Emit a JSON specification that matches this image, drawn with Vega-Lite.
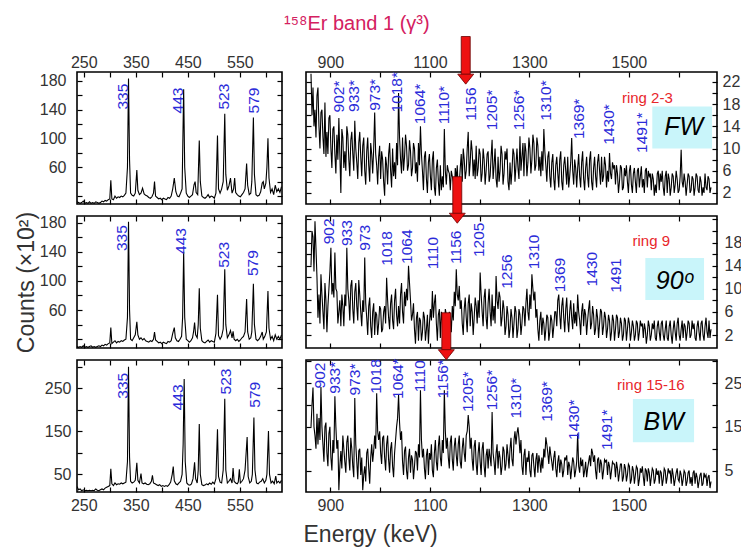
{
"$schema":"https://vega.github.io/schema/vega-lite/v6.json",
"background":"white",
"padding":{"left":14,"top":14,"right":5,"bottom":5},
"title":{"text":"¹⁵⁸Er band 1 (γ³)","font":"Liberation Sans","fontSize":20,"fontWeight":"normal","color":"#d42060","anchor":"start","frame":"group","dx":207,"offset":-19,"baseline":"bottom"},
"columns":2,
"spacing":{"row":12,"column":24},
"bounds":"flush",
"datasets":{
"tl":[{"e":237,"c":12},{"e":240,"c":11},{"e":243,"c":10},{"e":246,"c":11},{"e":249,"c":13},{"e":252,"c":10},{"e":255,"c":11},{"e":258,"c":10},{"e":261,"c":12},{"e":264,"c":10},{"e":267,"c":11},{"e":270,"c":10},{"e":273,"c":12},{"e":276,"c":11},{"e":279,"c":10},{"e":282,"c":11},{"e":285,"c":13},{"e":288,"c":12},{"e":291,"c":14},{"e":294,"c":13},{"e":297,"c":15},{"e":300,"c":16},{"e":302,"c":42},{"e":304,"c":16},{"e":307,"c":15},{"e":310,"c":20},{"e":313,"c":17},{"e":316,"c":19},{"e":319,"c":18},{"e":322,"c":20},{"e":325,"c":19},{"e":328,"c":21},{"e":331,"c":24},{"e":334,"c":60},{"e":336,"c":183},{"e":338,"c":70},{"e":340,"c":24},{"e":343,"c":21},{"e":346,"c":20},{"e":349,"c":24},{"e":352,"c":56},{"e":354,"c":28},{"e":357,"c":22},{"e":360,"c":24},{"e":363,"c":31},{"e":366,"c":23},{"e":369,"c":21},{"e":372,"c":20},{"e":375,"c":18},{"e":378,"c":17},{"e":381,"c":19},{"e":384,"c":24},{"e":386,"c":40},{"e":388,"c":20},{"e":391,"c":18},{"e":394,"c":16},{"e":397,"c":17},{"e":400,"c":15},{"e":403,"c":17},{"e":406,"c":16},{"e":409,"c":15},{"e":412,"c":18},{"e":415,"c":17},{"e":418,"c":20},{"e":421,"c":30},{"e":424,"c":45},{"e":427,"c":26},{"e":430,"c":20},{"e":433,"c":19},{"e":436,"c":24},{"e":439,"c":30},{"e":442,"c":168},{"e":444,"c":60},{"e":447,"c":24},{"e":450,"c":20},{"e":453,"c":18},{"e":456,"c":20},{"e":459,"c":22},{"e":462,"c":36},{"e":464,"c":40},{"e":466,"c":25},{"e":469,"c":22},{"e":472,"c":97},{"e":474,"c":40},{"e":477,"c":20},{"e":480,"c":18},{"e":483,"c":17},{"e":486,"c":19},{"e":489,"c":22},{"e":492,"c":18},{"e":495,"c":20},{"e":498,"c":19},{"e":501,"c":17},{"e":504,"c":24},{"e":507,"c":104},{"e":509,"c":30},{"e":512,"c":24},{"e":515,"c":30},{"e":518,"c":40},{"e":521,"c":134},{"e":523,"c":50},{"e":526,"c":28},{"e":529,"c":34},{"e":532,"c":45},{"e":535,"c":24},{"e":538,"c":30},{"e":540,"c":45},{"e":542,"c":25},{"e":545,"c":22},{"e":548,"c":20},{"e":551,"c":19},{"e":554,"c":22},{"e":557,"c":25},{"e":560,"c":30},{"e":563,"c":65},{"e":565,"c":35},{"e":568,"c":22},{"e":571,"c":24},{"e":573,"c":40},{"e":576,"c":129},{"e":578,"c":50},{"e":581,"c":22},{"e":584,"c":20},{"e":587,"c":21},{"e":590,"c":26},{"e":593,"c":38},{"e":595,"c":40},{"e":597,"c":30},{"e":600,"c":38},{"e":602,"c":60},{"e":604,"c":100},{"e":606,"c":45},{"e":609,"c":25},{"e":612,"c":30},{"e":615,"c":22},{"e":618,"c":35},{"e":621,"c":26},{"e":624,"c":30},{"e":627,"c":25},{"e":630,"c":33}],
"ml":[{"e":237,"c":10},{"e":240,"c":9},{"e":243,"c":10},{"e":246,"c":9},{"e":249,"c":11},{"e":252,"c":9},{"e":255,"c":10},{"e":258,"c":9},{"e":261,"c":10},{"e":264,"c":11},{"e":267,"c":9},{"e":270,"c":10},{"e":273,"c":9},{"e":276,"c":10},{"e":279,"c":11},{"e":282,"c":10},{"e":285,"c":12},{"e":288,"c":11},{"e":291,"c":13},{"e":294,"c":12},{"e":297,"c":14},{"e":300,"c":15},{"e":302,"c":36},{"e":304,"c":14},{"e":307,"c":16},{"e":310,"c":18},{"e":313,"c":15},{"e":316,"c":17},{"e":319,"c":16},{"e":322,"c":18},{"e":325,"c":17},{"e":328,"c":19},{"e":331,"c":20},{"e":334,"c":50},{"e":336,"c":181},{"e":338,"c":60},{"e":340,"c":20},{"e":343,"c":18},{"e":346,"c":22},{"e":349,"c":26},{"e":352,"c":44},{"e":354,"c":26},{"e":357,"c":20},{"e":360,"c":22},{"e":363,"c":19},{"e":366,"c":21},{"e":369,"c":18},{"e":372,"c":17},{"e":375,"c":16},{"e":378,"c":18},{"e":381,"c":17},{"e":384,"c":20},{"e":386,"c":30},{"e":388,"c":19},{"e":391,"c":17},{"e":394,"c":15},{"e":397,"c":16},{"e":400,"c":14},{"e":403,"c":16},{"e":406,"c":15},{"e":409,"c":14},{"e":412,"c":17},{"e":415,"c":16},{"e":418,"c":18},{"e":421,"c":28},{"e":424,"c":36},{"e":426,"c":22},{"e":429,"c":18},{"e":432,"c":17},{"e":435,"c":20},{"e":438,"c":24},{"e":440,"c":50},{"e":442,"c":140},{"e":444,"c":50},{"e":447,"c":20},{"e":450,"c":18},{"e":453,"c":16},{"e":456,"c":18},{"e":459,"c":22},{"e":461,"c":30},{"e":463,"c":43},{"e":465,"c":26},{"e":468,"c":22},{"e":470,"c":40},{"e":472,"c":90},{"e":474,"c":35},{"e":477,"c":18},{"e":480,"c":16},{"e":483,"c":15},{"e":486,"c":17},{"e":489,"c":19},{"e":492,"c":16},{"e":495,"c":18},{"e":498,"c":17},{"e":501,"c":16},{"e":504,"c":28},{"e":507,"c":81},{"e":509,"c":25},{"e":512,"c":20},{"e":515,"c":24},{"e":518,"c":34},{"e":521,"c":116},{"e":523,"c":40},{"e":526,"c":22},{"e":529,"c":26},{"e":532,"c":32},{"e":535,"c":22},{"e":537,"c":31},{"e":539,"c":20},{"e":542,"c":18},{"e":545,"c":20},{"e":548,"c":17},{"e":551,"c":19},{"e":554,"c":22},{"e":557,"c":24},{"e":560,"c":30},{"e":563,"c":75},{"e":565,"c":30},{"e":568,"c":20},{"e":571,"c":22},{"e":573,"c":30},{"e":576,"c":96},{"e":578,"c":40},{"e":581,"c":20},{"e":584,"c":18},{"e":587,"c":20},{"e":590,"c":24},{"e":593,"c":30},{"e":595,"c":20},{"e":598,"c":24},{"e":601,"c":30},{"e":604,"c":86},{"e":606,"c":35},{"e":609,"c":20},{"e":612,"c":24},{"e":615,"c":18},{"e":618,"c":26},{"e":621,"c":20},{"e":624,"c":24},{"e":627,"c":20},{"e":630,"c":26}],
"bl":[{"e":237,"c":22},{"e":240,"c":14},{"e":243,"c":16},{"e":246,"c":12},{"e":249,"c":14},{"e":252,"c":12},{"e":255,"c":13},{"e":258,"c":12},{"e":261,"c":13},{"e":264,"c":12},{"e":267,"c":13},{"e":270,"c":12},{"e":273,"c":16},{"e":276,"c":13},{"e":279,"c":12},{"e":282,"c":14},{"e":285,"c":16},{"e":288,"c":14},{"e":291,"c":18},{"e":294,"c":20},{"e":297,"c":22},{"e":300,"c":24},{"e":302,"c":63},{"e":304,"c":28},{"e":307,"c":24},{"e":310,"c":30},{"e":313,"c":26},{"e":316,"c":28},{"e":319,"c":27},{"e":322,"c":30},{"e":325,"c":28},{"e":328,"c":30},{"e":331,"c":32},{"e":334,"c":80},{"e":336,"c":300},{"e":338,"c":90},{"e":340,"c":34},{"e":343,"c":30},{"e":346,"c":32},{"e":349,"c":36},{"e":352,"c":77},{"e":354,"c":36},{"e":357,"c":30},{"e":360,"c":52},{"e":362,"c":30},{"e":365,"c":28},{"e":368,"c":30},{"e":371,"c":27},{"e":374,"c":26},{"e":377,"c":28},{"e":380,"c":34},{"e":382,"c":48},{"e":384,"c":30},{"e":387,"c":28},{"e":390,"c":26},{"e":393,"c":24},{"e":396,"c":26},{"e":399,"c":22},{"e":402,"c":24},{"e":405,"c":22},{"e":408,"c":24},{"e":411,"c":22},{"e":414,"c":26},{"e":417,"c":32},{"e":420,"c":50},{"e":422,"c":68},{"e":424,"c":35},{"e":427,"c":28},{"e":430,"c":26},{"e":433,"c":30},{"e":436,"c":34},{"e":439,"c":50},{"e":441,"c":120},{"e":443,"c":272},{"e":445,"c":80},{"e":448,"c":30},{"e":451,"c":26},{"e":454,"c":25},{"e":457,"c":28},{"e":460,"c":40},{"e":463,"c":78},{"e":465,"c":40},{"e":468,"c":30},{"e":470,"c":60},{"e":472,"c":167},{"e":474,"c":50},{"e":477,"c":26},{"e":480,"c":24},{"e":483,"c":25},{"e":486,"c":28},{"e":489,"c":26},{"e":492,"c":30},{"e":495,"c":27},{"e":498,"c":32},{"e":501,"c":28},{"e":504,"c":40},{"e":507,"c":155},{"e":509,"c":45},{"e":512,"c":32},{"e":515,"c":30},{"e":518,"c":60},{"e":521,"c":226},{"e":523,"c":60},{"e":526,"c":30},{"e":529,"c":34},{"e":532,"c":40},{"e":535,"c":30},{"e":537,"c":65},{"e":539,"c":34},{"e":542,"c":30},{"e":545,"c":28},{"e":547,"c":32},{"e":549,"c":62},{"e":551,"c":30},{"e":554,"c":34},{"e":557,"c":40},{"e":560,"c":60},{"e":564,"c":137},{"e":566,"c":45},{"e":569,"c":30},{"e":572,"c":34},{"e":574,"c":50},{"e":577,"c":182},{"e":579,"c":60},{"e":582,"c":30},{"e":585,"c":28},{"e":588,"c":32},{"e":591,"c":34},{"e":594,"c":40},{"e":597,"c":30},{"e":600,"c":36},{"e":602,"c":50},{"e":605,"c":151},{"e":607,"c":50},{"e":610,"c":30},{"e":613,"c":34},{"e":616,"c":28},{"e":619,"c":46},{"e":621,"c":30},{"e":624,"c":34},{"e":627,"c":30},{"e":630,"c":36}],
"tr":[{"e":861,"c":23.5},{"e":865,"c":21},{"e":869,"c":17},{"e":873,"c":19.5},{"e":877,"c":14},{"e":881,"c":16.5},{"e":885,"c":12},{"e":889,"c":18.3},{"e":893,"c":13},{"e":897,"c":15.5},{"e":901,"c":10},{"e":905,"c":13.5},{"e":909,"c":9},{"e":913,"c":12.5},{"e":917,"c":15.5},{"e":921,"c":2},{"e":925,"c":12},{"e":929,"c":9.5},{"e":933,"c":14},{"e":937,"c":8},{"e":941,"c":11.5},{"e":945,"c":9},{"e":949,"c":15},{"e":953,"c":7.5},{"e":957,"c":11},{"e":961,"c":8.5},{"e":965,"c":10.5},{"e":969,"c":6},{"e":973,"c":9.5},{"e":977,"c":7},{"e":981,"c":11},{"e":985,"c":5.5},{"e":989,"c":16.5},{"e":993,"c":7},{"e":997,"c":8.5},{"e":1001,"c":4.5},{"e":1005,"c":8},{"e":1009,"c":1.5},{"e":1013,"c":7},{"e":1017,"c":9},{"e":1021,"c":6},{"e":1025,"c":10},{"e":1029,"c":7.5},{"e":1033,"c":11},{"e":1037,"c":20},{"e":1041,"c":8},{"e":1045,"c":12},{"e":1049,"c":8.5},{"e":1053,"c":10.5},{"e":1057,"c":7},{"e":1061,"c":9.5},{"e":1065,"c":6.5},{"e":1069,"c":10},{"e":1073,"c":7.5},{"e":1077,"c":11},{"e":1081,"c":14},{"e":1085,"c":6},{"e":1089,"c":8.5},{"e":1093,"c":4.5},{"e":1097,"c":7.5},{"e":1101,"c":5},{"e":1105,"c":8},{"e":1109,"c":3},{"e":1113,"c":6.5},{"e":1117,"c":4},{"e":1121,"c":7},{"e":1125,"c":5},{"e":1129,"c":13.5},{"e":1133,"c":3.5},{"e":1137,"c":6},{"e":1141,"c":2.5},{"e":1145,"c":5},{"e":1149,"c":1.5},{"e":1153,"c":4.5},{"e":1157,"c":2},{"e":1161,"c":6.5},{"e":1165,"c":4},{"e":1169,"c":8},{"e":1173,"c":6},{"e":1177,"c":13},{"e":1181,"c":7.5},{"e":1185,"c":9.5},{"e":1189,"c":8},{"e":1193,"c":10.5},{"e":1197,"c":6.5},{"e":1201,"c":9},{"e":1205,"c":5.5},{"e":1209,"c":8},{"e":1213,"c":6},{"e":1217,"c":9.5},{"e":1221,"c":5},{"e":1225,"c":11.6},{"e":1229,"c":7},{"e":1233,"c":4.5},{"e":1237,"c":8.5},{"e":1241,"c":6},{"e":1245,"c":9},{"e":1249,"c":5.5},{"e":1253,"c":8},{"e":1257,"c":4},{"e":1261,"c":7.5},{"e":1265,"c":6},{"e":1269,"c":9},{"e":1273,"c":7},{"e":1277,"c":6.5},{"e":1281,"c":12.2},{"e":1285,"c":8.5},{"e":1289,"c":5},{"e":1293,"c":9.5},{"e":1297,"c":7.5},{"e":1301,"c":10},{"e":1305,"c":8},{"e":1309,"c":11},{"e":1313,"c":7},{"e":1317,"c":10.5},{"e":1321,"c":8.5},{"e":1325,"c":9.5},{"e":1329,"c":13.5},{"e":1333,"c":7},{"e":1337,"c":8.5},{"e":1341,"c":5},{"e":1345,"c":7.5},{"e":1349,"c":4.5},{"e":1353,"c":7},{"e":1357,"c":5.5},{"e":1361,"c":8},{"e":1365,"c":4},{"e":1369,"c":7},{"e":1373,"c":6},{"e":1377,"c":8.5},{"e":1381,"c":5},{"e":1385,"c":11.9},{"e":1389,"c":3.5},{"e":1393,"c":6.5},{"e":1397,"c":6.5},{"e":1401,"c":5},{"e":1405,"c":7.5},{"e":1409,"c":4.5},{"e":1413,"c":6.5},{"e":1417,"c":5},{"e":1421,"c":8},{"e":1425,"c":4},{"e":1429,"c":6.5},{"e":1433,"c":5},{"e":1437,"c":7.5},{"e":1441,"c":6},{"e":1445,"c":8.5},{"e":1449,"c":5},{"e":1453,"c":7},{"e":1457,"c":6},{"e":1461,"c":9.2},{"e":1465,"c":4.5},{"e":1469,"c":6.5},{"e":1473,"c":3.5},{"e":1477,"c":5.5},{"e":1481,"c":4},{"e":1485,"c":6.5},{"e":1489,"c":3},{"e":1493,"c":5},{"e":1497,"c":4},{"e":1501,"c":6},{"e":1505,"c":3.5},{"e":1509,"c":5.5},{"e":1513,"c":4},{"e":1517,"c":6},{"e":1521,"c":3},{"e":1525,"c":6.8},{"e":1529,"c":4.5},{"e":1533,"c":6},{"e":1537,"c":3},{"e":1541,"c":5},{"e":1545,"c":2.5},{"e":1549,"c":4.5},{"e":1553,"c":3.5},{"e":1557,"c":5.5},{"e":1561,"c":2.5},{"e":1565,"c":4},{"e":1569,"c":3},{"e":1573,"c":5},{"e":1577,"c":2},{"e":1581,"c":4.5},{"e":1585,"c":3},{"e":1589,"c":5},{"e":1593,"c":3.5},{"e":1597,"c":4.5},{"e":1601,"c":2.5},{"e":1605,"c":9.8},{"e":1609,"c":3},{"e":1613,"c":4},{"e":1617,"c":3.5},{"e":1621,"c":5},{"e":1625,"c":2.5},{"e":1629,"c":4.5},{"e":1633,"c":3},{"e":1637,"c":5},{"e":1641,"c":2},{"e":1645,"c":4},{"e":1649,"c":3},{"e":1653,"c":5.5},{"e":1657,"c":2.5},{"e":1661,"c":4.5},{"e":1665,"c":3},
{"e":863,"c":16},{"e":867,"c":14},{"e":871,"c":12},{"e":875,"c":21},{"e":879,"c":10},{"e":883,"c":17},{"e":887,"c":9},{"e":891,"c":8.5},{"e":895,"c":9},{"e":899,"c":16},{"e":903,"c":6.5},{"e":907,"c":14},{"e":911,"c":5.5},{"e":915,"c":8},{"e":919,"c":9},{"e":923,"c":13.5},{"e":927,"c":6.5},{"e":931,"c":6},{"e":935,"c":12.5},{"e":939,"c":5},{"e":943,"c":13},{"e":947,"c":6},{"e":951,"c":10},{"e":955,"c":4.5},{"e":959,"c":13},{"e":963,"c":5},{"e":967,"c":12},{"e":971,"c":3.5},{"e":975,"c":12},{"e":979,"c":4},{"e":983,"c":9},{"e":987,"c":10},{"e":991,"c":9},{"e":995,"c":3.5},{"e":999,"c":10.5},{"e":1003,"c":9.5},{"e":1007,"c":4},{"e":1011,"c":8.5},{"e":1015,"c":3.5},{"e":1019,"c":11},{"e":1023,"c":3},{"e":1027,"c":5},{"e":1031,"c":4.5},{"e":1035,"c":7},{"e":1039,"c":12},{"e":1043,"c":5.5},{"e":1047,"c":6},{"e":1051,"c":12.5},{"e":1055,"c":6},{"e":1059,"c":11.5},{"e":1063,"c":5},{"e":1067,"c":11},{"e":1071,"c":5.5},{"e":1075,"c":4},{"e":1079,"c":7},{"e":1083,"c":9},{"e":1087,"c":2.5},{"e":1091,"c":9.5},{"e":1095,"c":2},{"e":1099,"c":9},{"e":1103,"c":2.5},{"e":1107,"c":9.5},{"e":1111,"c":1.5},{"e":1115,"c":8},{"e":1119,"c":1.5},{"e":1123,"c":2.5},{"e":1127,"c":3},{"e":1131,"c":6},{"e":1135,"c":7},{"e":1139,"c":5.5},{"e":1143,"c":6},{"e":1147,"c":4},{"e":1151,"c":6.5},{"e":1155,"c":7},{"e":1159,"c":3.5},{"e":1163,"c":9},{"e":1167,"c":10},{"e":1171,"c":4.5},{"e":1175,"c":10},{"e":1179,"c":5},{"e":1183,"c":11.5},{"e":1187,"c":5},{"e":1191,"c":4.5},{"e":1195,"c":5},{"e":1199,"c":10},{"e":1203,"c":4},{"e":1207,"c":10},{"e":1211,"c":3.5},{"e":1215,"c":9},{"e":1219,"c":4},{"e":1223,"c":8.5},{"e":1227,"c":4.5},{"e":1231,"c":10},{"e":1235,"c":3},{"e":1239,"c":4},{"e":1243,"c":10.5},{"e":1247,"c":3.5},{"e":1251,"c":9.5},{"e":1255,"c":10},{"e":1259,"c":2.5},{"e":1263,"c":3.5},{"e":1267,"c":10},{"e":1271,"c":4},{"e":1275,"c":10},{"e":1279,"c":4.5},{"e":1283,"c":6},{"e":1287,"c":11},{"e":1291,"c":11},{"e":1295,"c":5},{"e":1299,"c":12},{"e":1303,"c":5.5},{"e":1307,"c":12.5},{"e":1311,"c":6},{"e":1315,"c":12},{"e":1319,"c":6},{"e":1323,"c":5},{"e":1327,"c":6},{"e":1331,"c":9.5},{"e":1335,"c":4},{"e":1339,"c":9.5},{"e":1343,"c":3},{"e":1347,"c":9},{"e":1351,"c":2.5},{"e":1355,"c":8.5},{"e":1359,"c":3},{"e":1363,"c":9.5},{"e":1367,"c":2.5},{"e":1371,"c":8.5},{"e":1375,"c":3.5},{"e":1379,"c":3},{"e":1383,"c":7.5},{"e":1387,"c":6},{"e":1391,"c":8},{"e":1395,"c":3},{"e":1399,"c":9},{"e":1403,"c":3},{"e":1407,"c":9.5},{"e":1411,"c":2.5},{"e":1415,"c":8.5},{"e":1419,"c":3},{"e":1423,"c":9.5},{"e":1427,"c":2.5},{"e":1431,"c":8.5},{"e":1435,"c":3},{"e":1439,"c":9},{"e":1443,"c":3.5},{"e":1447,"c":4},{"e":1451,"c":8.5},{"e":1455,"c":3},{"e":1459,"c":4},{"e":1463,"c":5.5},{"e":1467,"c":7.5},{"e":1471,"c":7},{"e":1475,"c":7},{"e":1479,"c":2},{"e":1483,"c":7},{"e":1487,"c":2.5},{"e":1491,"c":6.5},{"e":1495,"c":7},{"e":1499,"c":2},{"e":1503,"c":7},{"e":1507,"c":2},{"e":1511,"c":6.5},{"e":1515,"c":2},{"e":1519,"c":6.5},{"e":1523,"c":5},{"e":1527,"c":3},{"e":1531,"c":2},{"e":1535,"c":6.5},{"e":1539,"c":6},{"e":1543,"c":5.5},{"e":1547,"c":5.5},{"e":1551,"c":1.5},{"e":1555,"c":2},{"e":1559,"c":6},{"e":1563,"c":5.5},{"e":1567,"c":6},{"e":1571,"c":1.5},{"e":1575,"c":6},{"e":1579,"c":5.5},{"e":1583,"c":1.5},{"e":1587,"c":5.5},{"e":1591,"c":2},{"e":1595,"c":6},{"e":1599,"c":2},{"e":1603,"c":5},{"e":1607,"c":4},{"e":1611,"c":5.5},{"e":1615,"c":1.5},{"e":1619,"c":5.5},{"e":1623,"c":2},{"e":1627,"c":5},{"e":1631,"c":1.5},{"e":1635,"c":5.5},{"e":1639,"c":2.5},{"e":1643,"c":5},{"e":1647,"c":1.5},{"e":1651,"c":2},{"e":1655,"c":3},{"e":1659,"c":5},{"e":1663,"c":2}],
"mr":[{"e":861,"c":14},{"e":865,"c":19},{"e":869,"c":21.7},{"e":873,"c":12},{"e":877,"c":9},{"e":881,"c":12.5},{"e":885,"c":6},{"e":889,"c":11},{"e":893,"c":2.5},{"e":897,"c":10},{"e":901,"c":17.1},{"e":905,"c":11},{"e":909,"c":16.3},{"e":913,"c":9.5},{"e":917,"c":6},{"e":921,"c":3.5},{"e":925,"c":7},{"e":929,"c":9},{"e":933,"c":17.1},{"e":937,"c":8},{"e":941,"c":10.5},{"e":945,"c":6.5},{"e":949,"c":9.5},{"e":953,"c":7},{"e":957,"c":11.5},{"e":961,"c":6},{"e":965,"c":8},{"e":969,"c":15.4},{"e":973,"c":5},{"e":977,"c":7},{"e":981,"c":3.5},{"e":985,"c":6},{"e":989,"c":2},{"e":993,"c":5.5},{"e":997,"c":4},{"e":1001,"c":6.5},{"e":1005,"c":3},{"e":1009,"c":7},{"e":1013,"c":11.9},{"e":1017,"c":5},{"e":1021,"c":7.5},{"e":1025,"c":4.5},{"e":1029,"c":8},{"e":1033,"c":5.5},{"e":1037,"c":7},{"e":1041,"c":9},{"e":1045,"c":6},{"e":1049,"c":9.5},{"e":1053,"c":10},{"e":1057,"c":14},{"e":1061,"c":8},{"e":1065,"c":5.5},{"e":1069,"c":3},{"e":1073,"c":5},{"e":1077,"c":1},{"e":1081,"c":4.5},{"e":1085,"c":2.5},{"e":1089,"c":5},{"e":1093,"c":3},{"e":1097,"c":0.5},{"e":1101,"c":6.5},{"e":1105,"c":9.6},{"e":1109,"c":7.5},{"e":1113,"c":4},{"e":1117,"c":5.5},{"e":1121,"c":1.5},{"e":1125,"c":4.5},{"e":1129,"c":3},{"e":1133,"c":5.5},{"e":1137,"c":2.5},{"e":1141,"c":5},{"e":1145,"c":7},{"e":1149,"c":9.5},{"e":1153,"c":13.4},{"e":1157,"c":8},{"e":1161,"c":6.5},{"e":1165,"c":4},{"e":1169,"c":6.5},{"e":1173,"c":5},{"e":1177,"c":7.5},{"e":1181,"c":3.5},{"e":1185,"c":6},{"e":1189,"c":5},{"e":1193,"c":7},{"e":1197,"c":8},{"e":1201,"c":12.8},{"e":1205,"c":6},{"e":1209,"c":8.5},{"e":1213,"c":5},{"e":1217,"c":7.5},{"e":1221,"c":6},{"e":1225,"c":9},{"e":1229,"c":7},{"e":1233,"c":12.2},{"e":1237,"c":6.5},{"e":1241,"c":8.5},{"e":1245,"c":5},{"e":1249,"c":6.5},{"e":1253,"c":3.5},{"e":1257,"c":5.5},{"e":1261,"c":3},{"e":1265,"c":5},{"e":1269,"c":4},{"e":1273,"c":6},{"e":1277,"c":3},{"e":1281,"c":5.5},{"e":1285,"c":4},{"e":1289,"c":6.5},{"e":1293,"c":7.5},{"e":1297,"c":6},{"e":1301,"c":9},{"e":1305,"c":12.5},{"e":1309,"c":8},{"e":1313,"c":5},{"e":1317,"c":3},{"e":1321,"c":4.5},{"e":1325,"c":2},{"e":1329,"c":4},{"e":1333,"c":3},{"e":1337,"c":5},{"e":1341,"c":2.5},{"e":1345,"c":4.5},{"e":1349,"c":3.5},{"e":1353,"c":6},{"e":1357,"c":8},{"e":1361,"c":5.5},{"e":1365,"c":7},{"e":1369,"c":5},{"e":1373,"c":6.5},{"e":1377,"c":4.5},{"e":1381,"c":6},{"e":1385,"c":5},{"e":1389,"c":7.5},{"e":1393,"c":6},{"e":1397,"c":9},{"e":1401,"c":4.5},{"e":1405,"c":6},{"e":1409,"c":3.5},{"e":1413,"c":5.5},{"e":1417,"c":4.5},{"e":1421,"c":8},{"e":1425,"c":4},{"e":1429,"c":5.5},{"e":1433,"c":3},{"e":1437,"c":5},{"e":1441,"c":4},{"e":1445,"c":6},{"e":1449,"c":3.5},{"e":1453,"c":5},{"e":1457,"c":3},{"e":1461,"c":4.5},{"e":1465,"c":2.5},{"e":1469,"c":4.5},{"e":1473,"c":3},{"e":1477,"c":5},{"e":1481,"c":2.5},{"e":1485,"c":4},{"e":1489,"c":2},{"e":1493,"c":4.5},{"e":1497,"c":3},{"e":1501,"c":4},{"e":1505,"c":2.5},{"e":1509,"c":3.5},{"e":1513,"c":2},{"e":1517,"c":4},{"e":1521,"c":2.5},{"e":1525,"c":3.5},{"e":1529,"c":1.5},{"e":1533,"c":3},{"e":1537,"c":2},{"e":1541,"c":3.5},{"e":1545,"c":2},{"e":1549,"c":3},{"e":1553,"c":1.5},{"e":1557,"c":3.5},{"e":1561,"c":2.5},{"e":1565,"c":4},{"e":1569,"c":2},{"e":1573,"c":3},{"e":1577,"c":1.5},{"e":1581,"c":3.5},{"e":1585,"c":2},{"e":1589,"c":3},{"e":1593,"c":2.5},{"e":1597,"c":4},{"e":1601,"c":2},{"e":1605,"c":3},{"e":1609,"c":1.5},{"e":1613,"c":3.5},{"e":1617,"c":2.5},{"e":1621,"c":4},{"e":1625,"c":2},{"e":1629,"c":3},{"e":1633,"c":1.5},{"e":1637,"c":3.5},{"e":1641,"c":2.5},{"e":1645,"c":4},{"e":1649,"c":2},{"e":1653,"c":3.5},{"e":1657,"c":2.5},{"e":1661,"c":4.5},{"e":1665,"c":3},
{"e":863,"c":20},{"e":867,"c":13},{"e":871,"c":17},{"e":875,"c":5},{"e":879,"c":4},{"e":883,"c":9},{"e":887,"c":3},{"e":891,"c":8},{"e":895,"c":7},{"e":899,"c":13},{"e":903,"c":9},{"e":907,"c":8.5},{"e":911,"c":10},{"e":915,"c":4},{"e":919,"c":8},{"e":923,"c":9},{"e":927,"c":3.5},{"e":931,"c":7},{"e":935,"c":10},{"e":939,"c":4.5},{"e":943,"c":11.5},{"e":947,"c":4},{"e":951,"c":11},{"e":955,"c":4.5},{"e":959,"c":9},{"e":963,"c":3.5},{"e":967,"c":6},{"e":971,"c":7.5},{"e":975,"c":2},{"e":979,"c":8.5},{"e":983,"c":1.5},{"e":987,"c":7.5},{"e":991,"c":6},{"e":995,"c":2},{"e":999,"c":7},{"e":1003,"c":2.5},{"e":1007,"c":6},{"e":1011,"c":4},{"e":1015,"c":8},{"e":1019,"c":3},{"e":1023,"c":9},{"e":1027,"c":3},{"e":1031,"c":10},{"e":1035,"c":3.5},{"e":1039,"c":4},{"e":1043,"c":11},{"e":1047,"c":4},{"e":1051,"c":7},{"e":1055,"c":8},{"e":1059,"c":11},{"e":1063,"c":4.5},{"e":1067,"c":7.5},{"e":1071,"c":0.5},{"e":1075,"c":6},{"e":1079,"c":5},{"e":1083,"c":1},{"e":1087,"c":6},{"e":1091,"c":1},{"e":1095,"c":5.5},{"e":1099,"c":4},{"e":1103,"c":4.5},{"e":1107,"c":5},{"e":1111,"c":9},{"e":1115,"c":1},{"e":1119,"c":6.5},{"e":1123,"c":6},{"e":1127,"c":0.5},{"e":1131,"c":6.5},{"e":1135,"c":1.5},{"e":1139,"c":6},{"e":1143,"c":2.5},{"e":1147,"c":4.5},{"e":1151,"c":7},{"e":1155,"c":9},{"e":1159,"c":10.5},{"e":1163,"c":8},{"e":1167,"c":2},{"e":1171,"c":8.5},{"e":1175,"c":2.5},{"e":1179,"c":9},{"e":1183,"c":7.5},{"e":1187,"c":2},{"e":1191,"c":8.5},{"e":1195,"c":4},{"e":1199,"c":5},{"e":1203,"c":9},{"e":1207,"c":3.5},{"e":1211,"c":10},{"e":1215,"c":3},{"e":1219,"c":10},{"e":1223,"c":3.5},{"e":1227,"c":4.5},{"e":1231,"c":4},{"e":1235,"c":8},{"e":1239,"c":9.5},{"e":1243,"c":3.5},{"e":1247,"c":8},{"e":1251,"c":2},{"e":1255,"c":7},{"e":1259,"c":1.5},{"e":1263,"c":6.5},{"e":1267,"c":1.5},{"e":1271,"c":7},{"e":1275,"c":1.5},{"e":1279,"c":6.5},{"e":1283,"c":2},{"e":1287,"c":7},{"e":1291,"c":3.5},{"e":1295,"c":10},{"e":1299,"c":4.5},{"e":1303,"c":6.5},{"e":1307,"c":10},{"e":1311,"c":9.5},{"e":1315,"c":6.5},{"e":1319,"c":1},{"e":1323,"c":6},{"e":1327,"c":5},{"e":1331,"c":1},{"e":1335,"c":5.5},{"e":1339,"c":1},{"e":1343,"c":5.5},{"e":1347,"c":1.5},{"e":1351,"c":6},{"e":1355,"c":3.5},{"e":1359,"c":9},{"e":1363,"c":3},{"e":1367,"c":8.5},{"e":1371,"c":2.5},{"e":1375,"c":8.5},{"e":1379,"c":2.5},{"e":1383,"c":8},{"e":1387,"c":3},{"e":1391,"c":4},{"e":1395,"c":3.5},{"e":1399,"c":6},{"e":1403,"c":2},{"e":1407,"c":7.5},{"e":1411,"c":6.5},{"e":1415,"c":2},{"e":1419,"c":6.5},{"e":1423,"c":3},{"e":1427,"c":7},{"e":1431,"c":2},{"e":1435,"c":6.5},{"e":1439,"c":1.5},{"e":1443,"c":6.5},{"e":1447,"c":2},{"e":1451,"c":6},{"e":1455,"c":1.5},{"e":1459,"c":5.5},{"e":1463,"c":1},{"e":1467,"c":5.5},{"e":1471,"c":1},{"e":1475,"c":5.5},{"e":1479,"c":1.5},{"e":1483,"c":5},{"e":1487,"c":1},{"e":1491,"c":5},{"e":1495,"c":1},{"e":1499,"c":5},{"e":1503,"c":1},{"e":1507,"c":4.5},{"e":1511,"c":1},{"e":1515,"c":4.5},{"e":1519,"c":1},{"e":1523,"c":4.5},{"e":1527,"c":4},{"e":1531,"c":4},{"e":1535,"c":0.5},{"e":1539,"c":4.5},{"e":1543,"c":1},{"e":1547,"c":4},{"e":1551,"c":4.5},{"e":1555,"c":1},{"e":1559,"c":4.5},{"e":1563,"c":1},{"e":1567,"c":4.5},{"e":1571,"c":1},{"e":1575,"c":4.5},{"e":1579,"c":1},{"e":1583,"c":4.5},{"e":1587,"c":0.5},{"e":1591,"c":4.5},{"e":1595,"c":1},{"e":1599,"c":5},{"e":1603,"c":1},{"e":1607,"c":4.5},{"e":1611,"c":4},{"e":1615,"c":1},{"e":1619,"c":4.5},{"e":1623,"c":1.5},{"e":1627,"c":4.5},{"e":1631,"c":4},{"e":1635,"c":1},{"e":1639,"c":4.5},{"e":1643,"c":1},{"e":1647,"c":4.5},{"e":1651,"c":1},{"e":1655,"c":5},{"e":1659,"c":1.5},{"e":1663,"c":1.5}],
"br":[{"e":861,"c":15},{"e":865,"c":24},{"e":869,"c":13},{"e":873,"c":18},{"e":877,"c":17},{"e":881,"c":24.1},{"e":885,"c":11},{"e":889,"c":15},{"e":893,"c":9},{"e":897,"c":13.5},{"e":901,"c":8},{"e":905,"c":12},{"e":909,"c":22},{"e":913,"c":10},{"e":917,"c":0.5},{"e":921,"c":9.5},{"e":925,"c":13},{"e":929,"c":7},{"e":933,"c":11.5},{"e":937,"c":8},{"e":941,"c":12.5},{"e":945,"c":6},{"e":949,"c":21.6},{"e":953,"c":7},{"e":957,"c":9.5},{"e":961,"c":4},{"e":965,"c":0.5},{"e":969,"c":6},{"e":973,"c":9},{"e":977,"c":5.5},{"e":981,"c":8},{"e":985,"c":7},{"e":989,"c":13},{"e":993,"c":22.7},{"e":997,"c":12},{"e":1001,"c":9},{"e":1005,"c":12.5},{"e":1009,"c":8},{"e":1013,"c":11},{"e":1017,"c":7.5},{"e":1021,"c":10},{"e":1025,"c":6},{"e":1029,"c":9},{"e":1033,"c":15},{"e":1037,"c":22.3},{"e":1041,"c":12},{"e":1045,"c":7},{"e":1049,"c":9.5},{"e":1053,"c":5},{"e":1057,"c":8},{"e":1061,"c":4.5},{"e":1065,"c":7.5},{"e":1069,"c":6},{"e":1073,"c":9},{"e":1077,"c":11},{"e":1081,"c":23.4},{"e":1085,"c":8},{"e":1089,"c":5.5},{"e":1093,"c":8.5},{"e":1097,"c":4},{"e":1101,"c":7.5},{"e":1105,"c":5},{"e":1109,"c":9},{"e":1113,"c":7},{"e":1117,"c":10.5},{"e":1121,"c":8},{"e":1125,"c":12},{"e":1129,"c":23.4},{"e":1133,"c":10},{"e":1137,"c":8},{"e":1141,"c":11.5},{"e":1145,"c":7.5},{"e":1149,"c":10.5},{"e":1153,"c":8.5},{"e":1157,"c":11},{"e":1161,"c":7},{"e":1165,"c":10},{"e":1169,"c":9},{"e":1173,"c":13},{"e":1177,"c":17.7},{"e":1181,"c":10},{"e":1185,"c":7.5},{"e":1189,"c":10.5},{"e":1193,"c":6.5},{"e":1197,"c":9},{"e":1201,"c":7},{"e":1205,"c":10},{"e":1209,"c":6},{"e":1213,"c":8.5},{"e":1217,"c":5.5},{"e":1221,"c":8},{"e":1225,"c":18.4},{"e":1229,"c":7},{"e":1233,"c":9},{"e":1237,"c":5.5},{"e":1241,"c":8},{"e":1245,"c":6},{"e":1249,"c":9.5},{"e":1253,"c":6.5},{"e":1257,"c":8.5},{"e":1261,"c":10},{"e":1265,"c":7.5},{"e":1269,"c":12},{"e":1273,"c":11},{"e":1277,"c":14.9},{"e":1281,"c":9},{"e":1285,"c":6},{"e":1289,"c":8.5},{"e":1293,"c":4},{"e":1297,"c":7},{"e":1301,"c":5},{"e":1305,"c":8.5},{"e":1309,"c":6},{"e":1313,"c":7.5},{"e":1317,"c":4.5},{"e":1321,"c":7},{"e":1325,"c":8},{"e":1329,"c":10},{"e":1333,"c":12.6},{"e":1337,"c":9},{"e":1341,"c":10.5},{"e":1345,"c":7},{"e":1349,"c":8},{"e":1353,"c":5.5},{"e":1357,"c":7},{"e":1361,"c":4.5},{"e":1365,"c":6.5},{"e":1369,"c":5},{"e":1373,"c":7.5},{"e":1377,"c":4},{"e":1381,"c":6},{"e":1385,"c":5.5},{"e":1389,"c":7},{"e":1393,"c":5},{"e":1397,"c":13.5},{"e":1401,"c":4.5},{"e":1405,"c":6},{"e":1409,"c":3.5},{"e":1413,"c":7},{"e":1417,"c":5.5},{"e":1421,"c":8.5},{"e":1425,"c":10},{"e":1429,"c":7},{"e":1433,"c":5},{"e":1437,"c":7.5},{"e":1441,"c":4.5},{"e":1445,"c":6.5},{"e":1449,"c":5},{"e":1453,"c":7},{"e":1457,"c":4},{"e":1461,"c":6},{"e":1465,"c":5},{"e":1469,"c":6.5},{"e":1473,"c":3.5},{"e":1477,"c":5.5},{"e":1481,"c":4.5},{"e":1485,"c":6.5},{"e":1489,"c":3.5},{"e":1493,"c":5.5},{"e":1497,"c":4},{"e":1501,"c":6},{"e":1505,"c":3},{"e":1509,"c":5},{"e":1513,"c":4},{"e":1517,"c":5.5},{"e":1521,"c":3},{"e":1525,"c":4.5},{"e":1529,"c":3.5},{"e":1533,"c":5.5},{"e":1537,"c":2.5},{"e":1541,"c":4.5},{"e":1545,"c":3.5},{"e":1549,"c":5},{"e":1553,"c":3},{"e":1557,"c":4},{"e":1561,"c":2},{"e":1565,"c":4.5},{"e":1569,"c":3},{"e":1573,"c":5},{"e":1577,"c":3.5},{"e":1581,"c":4.5},{"e":1585,"c":2},{"e":1589,"c":4},{"e":1593,"c":3},{"e":1597,"c":5.5},{"e":1601,"c":2.5},{"e":1605,"c":4},{"e":1609,"c":3},{"e":1613,"c":4.5},{"e":1617,"c":2.5},{"e":1621,"c":5},{"e":1625,"c":3.5},{"e":1629,"c":4.5},{"e":1633,"c":2},{"e":1637,"c":3.5},{"e":1641,"c":2.5},{"e":1645,"c":4.5},{"e":1649,"c":2},{"e":1653,"c":3.5},{"e":1657,"c":1.5},{"e":1661,"c":4},{"e":1665,"c":2.5},
{"e":863,"c":20},{"e":867,"c":15},{"e":871,"c":10},{"e":875,"c":11},{"e":879,"c":12},{"e":883,"c":15},{"e":887,"c":7},{"e":891,"c":16},{"e":895,"c":6},{"e":899,"c":15},{"e":903,"c":5},{"e":907,"c":9},{"e":911,"c":15},{"e":915,"c":12},{"e":919,"c":6},{"e":923,"c":5.5},{"e":927,"c":10},{"e":931,"c":4.5},{"e":935,"c":13},{"e":939,"c":5},{"e":943,"c":10},{"e":947,"c":3.5},{"e":951,"c":11},{"e":955,"c":3},{"e":959,"c":10},{"e":963,"c":8},{"e":967,"c":4},{"e":971,"c":2.5},{"e":975,"c":10},{"e":979,"c":2},{"e":983,"c":11},{"e":987,"c":9.5},{"e":991,"c":10},{"e":995,"c":14},{"e":999,"c":14},{"e":1003,"c":6.5},{"e":1007,"c":13},{"e":1011,"c":5},{"e":1015,"c":13},{"e":1019,"c":4.5},{"e":1023,"c":11.5},{"e":1027,"c":3.5},{"e":1031,"c":12},{"e":1035,"c":17},{"e":1039,"c":16},{"e":1043,"c":14},{"e":1047,"c":4},{"e":1051,"c":10.5},{"e":1055,"c":3},{"e":1059,"c":10},{"e":1063,"c":8.5},{"e":1067,"c":3},{"e":1071,"c":9.5},{"e":1075,"c":5},{"e":1079,"c":8},{"e":1083,"c":12},{"e":1087,"c":10},{"e":1091,"c":3},{"e":1095,"c":10},{"e":1099,"c":9},{"e":1103,"c":11},{"e":1107,"c":3.5},{"e":1111,"c":12},{"e":1115,"c":5},{"e":1119,"c":13},{"e":1123,"c":6},{"e":1127,"c":9},{"e":1131,"c":14},{"e":1135,"c":12.5},{"e":1139,"c":5.5},{"e":1143,"c":13},{"e":1147,"c":5},{"e":1151,"c":12.5},{"e":1155,"c":6},{"e":1159,"c":13},{"e":1163,"c":5.5},{"e":1167,"c":12.5},{"e":1171,"c":7},{"e":1175,"c":14},{"e":1179,"c":15},{"e":1183,"c":12.5},{"e":1187,"c":5},{"e":1191,"c":12},{"e":1195,"c":4},{"e":1199,"c":11.5},{"e":1203,"c":4},{"e":1207,"c":11.5},{"e":1211,"c":3.5},{"e":1215,"c":10},{"e":1219,"c":10},{"e":1223,"c":6},{"e":1227,"c":9},{"e":1231,"c":4},{"e":1235,"c":11},{"e":1239,"c":9.5},{"e":1243,"c":4},{"e":1247,"c":10.5},{"e":1251,"c":5},{"e":1255,"c":11},{"e":1259,"c":5.5},{"e":1263,"c":12.5},{"e":1267,"c":6},{"e":1271,"c":14},{"e":1275,"c":13.5},{"e":1279,"c":12.5},{"e":1283,"c":12},{"e":1287,"c":4},{"e":1291,"c":10},{"e":1295,"c":8},{"e":1299,"c":9.5},{"e":1303,"c":3.5},{"e":1307,"c":9},{"e":1311,"c":3.5},{"e":1315,"c":9},{"e":1319,"c":8.5},{"e":1323,"c":4.5},{"e":1327,"c":5.5},{"e":1331,"c":8},{"e":1335,"c":11},{"e":1339,"c":6.5},{"e":1343,"c":8.5},{"e":1347,"c":5},{"e":1351,"c":9.5},{"e":1355,"c":3.5},{"e":1359,"c":8.5},{"e":1363,"c":7.5},{"e":1367,"c":3.5},{"e":1371,"c":8},{"e":1375,"c":8.5},{"e":1379,"c":7},{"e":1383,"c":3},{"e":1387,"c":8},{"e":1391,"c":3.5},{"e":1395,"c":7},{"e":1399,"c":6},{"e":1403,"c":8},{"e":1407,"c":7.5},{"e":1411,"c":5},{"e":1415,"c":3.5},{"e":1419,"c":7},{"e":1423,"c":6},{"e":1427,"c":9},{"e":1431,"c":8.5},{"e":1435,"c":3},{"e":1439,"c":8},{"e":1443,"c":7.5},{"e":1447,"c":3},{"e":1451,"c":7.5},{"e":1455,"c":7.5},{"e":1459,"c":7},{"e":1463,"c":3},{"e":1467,"c":7},{"e":1471,"c":6.5},{"e":1475,"c":7},{"e":1479,"c":2.5},{"e":1483,"c":6.5},{"e":1487,"c":2.5},{"e":1491,"c":6.5},{"e":1495,"c":2.5},{"e":1499,"c":6.5},{"e":1503,"c":2},{"e":1507,"c":6},{"e":1511,"c":2},{"e":1515,"c":6},{"e":1519,"c":1.5},{"e":1523,"c":5.5},{"e":1527,"c":6},{"e":1531,"c":1.5},{"e":1535,"c":5},{"e":1539,"c":5.5},{"e":1543,"c":1.5},{"e":1547,"c":5.5},{"e":1551,"c":2},{"e":1555,"c":5.5},{"e":1559,"c":5},{"e":1563,"c":5},{"e":1567,"c":1.5},{"e":1571,"c":5.5},{"e":1575,"c":2},{"e":1579,"c":5.5},{"e":1583,"c":5},{"e":1587,"c":5.5},{"e":1591,"c":1.5},{"e":1595,"c":4.5},{"e":1599,"c":3},{"e":1603,"c":5},{"e":1607,"c":1.5},{"e":1611,"c":5},{"e":1615,"c":1.5},{"e":1619,"c":4.5},{"e":1623,"c":2},{"e":1627,"c":1.5},{"e":1631,"c":5},{"e":1635,"c":4.5},{"e":1639,"c":1},{"e":1643,"c":4},{"e":1647,"c":1.5},{"e":1651,"c":4.5},{"e":1655,"c":4},{"e":1659,"c":3.5},{"e":1663,"c":1}],
"tl_lab":[{"e":325,"v":140,"t":"335"},{"e":432,"v":134.6,"t":"443"},{"e":520,"v":140,"t":"523"},{"e":577,"v":134.6,"t":"579"}],
"ml_lab":[{"e":323,"v":141,"t":"335"},{"e":436,"v":137,"t":"443"},{"e":519,"v":118,"t":"523"},{"e":575,"v":106.6,"t":"579"}],
"bl_lab":[{"e":325,"v":226,"t":"335"},{"e":431,"v":199,"t":"443"},{"e":523,"v":236,"t":"523"},{"e":579,"v":205,"t":"579"}],
"tr_lab":[{"e":918,"v":16.5,"t":"902*"},{"e":948,"v":16.6,"t":"933*"},{"e":990,"v":16.8,"t":"973*"},{"e":1033,"v":16.5,"t":"1018*"},{"e":1080,"v":14.4,"t":"1064*"},{"e":1129,"v":14.4,"t":"1110*"},{"e":1182,"v":15,"t":"1156"},{"e":1225,"v":13.3,"t":"1205*"},{"e":1279,"v":13.3,"t":"1256*"},{"e":1333,"v":15,"t":"1310*"},{"e":1400,"v":11.7,"t":"1369*"},{"e":1460,"v":10.7,"t":"1430*"},{"e":1526,"v":9.2,"t":"1491*"}],
"mr_lab":[{"e":898,"v":17.7,"t":"902"},{"e":933,"v":17.4,"t":"933"},{"e":970,"v":16.6,"t":"973"},{"e":1013,"v":14,"t":"1018"},{"e":1054,"v":14.3,"t":"1064"},{"e":1107,"v":13.4,"t":"1110"},{"e":1152,"v":14.3,"t":"1156"},{"e":1199,"v":15.5,"t":"1205"},{"e":1255,"v":10,"t":"1256"},{"e":1309,"v":13.4,"t":"1310"},{"e":1362,"v":9.4,"t":"1369"},{"e":1425,"v":10.4,"t":"1430"},{"e":1475,"v":9.3,"t":"1491"}],
"br_lab":[{"e":879,"v":23.8,"t":"902"},{"e":909,"v":22.6,"t":"933*"},{"e":949,"v":22.2,"t":"973*"},{"e":992,"v":22.6,"t":"1018"},{"e":1036,"v":21.4,"t":"1064*"},{"e":1081,"v":22.9,"t":"1110"},{"e":1126,"v":21.5,"t":"1156*"},{"e":1176,"v":18.4,"t":"1205*"},{"e":1224,"v":18.8,"t":"1256*"},{"e":1273,"v":16.9,"t":"1310*"},{"e":1335,"v":16.2,"t":"1369*"},{"e":1390,"v":12,"t":"1430*"},{"e":1456,"v":9.7,"t":"1491*"}],
"tr_note":[{"x1":1547,"x2":1667,"y1":10,"y2":17.6,"tx":1610,"ty":13.8,"t":"FW","rx":1537,"ry":19.2,"r":"ring 2-3","ax":1172,"atop":30.2,"abot":23.3,"ahead":22.55}],
"mr_note":[{"x1":1533,"x2":1651,"y1":8.07,"y2":15.35,"tx":1592,"ty":11.4,"t":"90ᵒ","rx":1545,"ry":18.2,"r":"ring 9","ax":1155,"atop":29.4,"abot":23.0,"ahead":22.25}],
"br_note":[{"x1":1508,"x2":1631,"y1":11.5,"y2":21.4,"tx":1570,"ty":16.2,"t":"BW","rx":1544,"ry":24.6,"r":"ring 15-16","ax":1133,"atop":41.1,"abot":32.6,"ahead":31.56}]
},
"concat":[
{"width":205,"height":132,"resolve":{"axis":{"x":"independent","y":"independent"}},"layer":[
 {"data":{"name":"tl"},"mark":{"type":"line","color":"black","strokeWidth":1.1,"clip":true},
  "encoding":{"x":{"field":"e","type":"quantitative","scale":{"domain":[237,631],"nice":false,"zero":false},"axis":{"orient":"bottom","values":[250,300,350,400,450,500,550,600],"labels":false,"title":null}},
   "y":{"field":"c","type":"quantitative","scale":{"domain":[9,192],"nice":false,"zero":false},"axis":{"orient":"left","values":[20,40,60,80,100,120,140,160,180],"labelExpr":"datum.value >= 60 && datum.value % 40 == 20 ? datum.label : ''","labelPadding":16,"title":null}}}},
 {"data":{"name":"tl_lab"},"mark":{"type":"text","angle":270,"align":"left","baseline":"middle","fontSize":15.5,"color":"#2b2bd9"},
  "encoding":{"x":{"field":"e","type":"quantitative","scale":{"domain":[237,631],"nice":false,"zero":false},"axis":{"orient":"top","values":[250,300,350,400,450,500,550,600],"labelExpr":"datum.value % 100 == 50 ? datum.label : ''","labelPadding":7,"title":null}},
   "y":{"field":"v","type":"quantitative","scale":{"domain":[9,192],"nice":false,"zero":false},"axis":{"orient":"right","values":[20,40,60,80,100,120,140,160,180],"labels":false,"title":null}},
   "text":{"field":"t"}}}
]},
{"width":411,"height":132,"resolve":{"axis":{"x":"independent","y":"independent"}},"layer":[
 {"data":{"name":"tr"},"mark":{"type":"line","color":"black","strokeWidth":1.1,"clip":true},
  "encoding":{"x":{"field":"e","type":"quantitative","scale":{"domain":[861,1667],"nice":false,"zero":false},"axis":{"orient":"bottom","values":[900,1000,1100,1200,1300,1400,1500,1600],"labels":false,"title":null}},
   "y":{"field":"c","type":"quantitative","scale":{"domain":[0,23.8],"nice":false,"zero":false},"axis":{"orient":"right","values":[2,4,6,8,10,12,14,16,18,20,22],"labelExpr":"datum.value % 4 == 2 ? datum.label : ''","labelPadding":10,"title":null}}}},
 {"data":{"name":"tr_lab"},"mark":{"type":"text","angle":270,"align":"left","baseline":"middle","fontSize":15.5,"color":"#2b2bd9"},
  "encoding":{"x":{"field":"e","type":"quantitative","scale":{"domain":[861,1667],"nice":false,"zero":false},"axis":{"orient":"top","values":[900,1000,1100,1200,1300,1400,1500,1600],"format":"d","labelExpr":"datum.value % 200 == 100 ? datum.label : ''","labelPadding":7,"title":null}},
   "y":{"field":"v","type":"quantitative","scale":{"domain":[0,23.8],"nice":false,"zero":false},"axis":{"orient":"left","values":[2,4,6,8,10,12,14,16,18,20,22],"labels":false,"title":null}},
   "text":{"field":"t"}}},
 {"data":{"name":"tr_note"},"mark":{"type":"rect","color":"#c9f5fa"},
  "encoding":{"x":{"field":"x1","type":"quantitative","axis":null},"x2":{"field":"x2"},"y":{"field":"y1","type":"quantitative","axis":null},"y2":{"field":"y2"}}},
 {"data":{"name":"tr_note"},"mark":{"type":"text","fontSize":25,"fontStyle":"italic","color":"black"},
  "encoding":{"x":{"field":"tx","type":"quantitative","axis":null},"y":{"field":"ty","type":"quantitative","axis":null},"text":{"field":"t"}}},
 {"data":{"name":"tr_note"},"mark":{"type":"text","fontSize":15,"color":"#e8262b"},
  "encoding":{"x":{"field":"rx","type":"quantitative","axis":null},"y":{"field":"ry","type":"quantitative","axis":null},"text":{"field":"r"}}},
 {"data":{"name":"tr_note"},"mark":{"type":"bar","width":9,"color":"#ee1111","stroke":"#6a0000","strokeWidth":0.8},
  "encoding":{"x":{"field":"ax","type":"quantitative","axis":null},"y":{"field":"atop","type":"quantitative","axis":null},"y2":{"field":"abot"}}},
 {"data":{"name":"tr_note"},"mark":{"type":"point","shape":"M-1,-0.6L1,-0.6L0,0.65Z","size":256,"filled":true,"opacity":1,"color":"#ee1111","stroke":"#6a0000","strokeWidth":0.8},
  "encoding":{"x":{"field":"ax","type":"quantitative","axis":null},"y":{"field":"ahead","type":"quantitative","axis":null}}}
]},
{"width":205,"height":132,"resolve":{"axis":{"x":"independent","y":"independent"}},"layer":[
 {"data":{"name":"ml"},"mark":{"type":"line","color":"black","strokeWidth":1.1,"clip":true},
  "encoding":{"x":{"field":"e","type":"quantitative","scale":{"domain":[237,631],"nice":false,"zero":false},"axis":{"orient":"bottom","values":[250,300,350,400,450,500,550,600],"labels":false,"title":null}},
   "y":{"field":"c","type":"quantitative","scale":{"domain":[8,189],"nice":false,"zero":false},"axis":{"orient":"left","values":[20,40,60,80,100,120,140,160,180],"labelExpr":"datum.value >= 60 && datum.value % 40 == 20 ? datum.label : ''","labelPadding":16,"title":"Counts (×10²)","titleX":-44,"titleY":66,"titleAngle":270,"titleAlign":"center","titleBaseline":"alphabetic"}}}},
 {"data":{"name":"ml_lab"},"mark":{"type":"text","angle":270,"align":"left","baseline":"middle","fontSize":15.5,"color":"#2b2bd9"},
  "encoding":{"x":{"field":"e","type":"quantitative","scale":{"domain":[237,631],"nice":false,"zero":false},"axis":{"orient":"top","values":[250,300,350,400,450,500,550,600],"labels":false,"title":null}},
   "y":{"field":"v","type":"quantitative","scale":{"domain":[8,189],"nice":false,"zero":false},"axis":{"orient":"right","values":[20,40,60,80,100,120,140,160,180],"labels":false,"title":null}},
   "text":{"field":"t"}}}
]},
{"width":411,"height":132,"resolve":{"axis":{"x":"independent","y":"independent"}},"layer":[
 {"data":{"name":"mr"},"mark":{"type":"line","color":"black","strokeWidth":1.1,"clip":true},
  "encoding":{"x":{"field":"e","type":"quantitative","scale":{"domain":[861,1667],"nice":false,"zero":false},"axis":{"orient":"bottom","values":[900,1000,1100,1200,1300,1400,1500,1600],"labels":false,"title":null}},
   "y":{"field":"c","type":"quantitative","scale":{"domain":[-0.25,22.6],"nice":false,"zero":false},"axis":{"orient":"right","values":[2,4,6,8,10,12,14,16,18,20,22],"labelExpr":"datum.value % 4 == 2 && datum.value < 20 ? datum.label : ''","labelPadding":12,"title":null}}}},
 {"data":{"name":"mr_lab"},"mark":{"type":"text","angle":270,"align":"left","baseline":"middle","fontSize":15.5,"color":"#2b2bd9"},
  "encoding":{"x":{"field":"e","type":"quantitative","scale":{"domain":[861,1667],"nice":false,"zero":false},"axis":{"orient":"top","values":[900,1000,1100,1200,1300,1400,1500,1600],"labels":false,"title":null}},
   "y":{"field":"v","type":"quantitative","scale":{"domain":[-0.25,22.6],"nice":false,"zero":false},"axis":{"orient":"left","values":[2,4,6,8,10,12,14,16,18,20,22],"labels":false,"title":null}},
   "text":{"field":"t"}}},
 {"data":{"name":"mr_note"},"mark":{"type":"rect","color":"#c9f5fa"},
  "encoding":{"x":{"field":"x1","type":"quantitative","axis":null},"x2":{"field":"x2"},"y":{"field":"y1","type":"quantitative","axis":null},"y2":{"field":"y2"}}},
 {"data":{"name":"mr_note"},"mark":{"type":"text","fontSize":25,"fontStyle":"italic","color":"black"},
  "encoding":{"x":{"field":"tx","type":"quantitative","axis":null},"y":{"field":"ty","type":"quantitative","axis":null},"text":{"field":"t"}}},
 {"data":{"name":"mr_note"},"mark":{"type":"text","fontSize":15,"color":"#e8262b"},
  "encoding":{"x":{"field":"rx","type":"quantitative","axis":null},"y":{"field":"ry","type":"quantitative","axis":null},"text":{"field":"r"}}},
 {"data":{"name":"mr_note"},"mark":{"type":"bar","width":9,"color":"#ee1111","stroke":"#6a0000","strokeWidth":0.8},
  "encoding":{"x":{"field":"ax","type":"quantitative","axis":null},"y":{"field":"atop","type":"quantitative","axis":null},"y2":{"field":"abot"}}},
 {"data":{"name":"mr_note"},"mark":{"type":"point","shape":"M-1,-0.6L1,-0.6L0,0.65Z","size":256,"filled":true,"opacity":1,"color":"#ee1111","stroke":"#6a0000","strokeWidth":0.8},
  "encoding":{"x":{"field":"ax","type":"quantitative","axis":null},"y":{"field":"ahead","type":"quantitative","axis":null}}}
]},
{"width":205,"height":132,"resolve":{"axis":{"x":"independent","y":"independent"}},"layer":[
 {"data":{"name":"bl"},"mark":{"type":"line","color":"black","strokeWidth":1.1,"clip":true},
  "encoding":{"x":{"field":"e","type":"quantitative","scale":{"domain":[237,631],"nice":false,"zero":false},"axis":{"orient":"bottom","values":[250,300,350,400,450,500,550,600],"labelExpr":"datum.value % 100 == 50 ? datum.label : ''","labelPadding":10,"title":null}},
   "y":{"field":"c","type":"quantitative","scale":{"domain":[9,316],"nice":false,"zero":false},"axis":{"orient":"left","values":[50,100,150,200,250,300],"labelExpr":"datum.value % 100 == 50 ? datum.label : ''","labelPadding":11,"title":null}}}},
 {"data":{"name":"bl_lab"},"mark":{"type":"text","angle":270,"align":"left","baseline":"middle","fontSize":15.5,"color":"#2b2bd9"},
  "encoding":{"x":{"field":"e","type":"quantitative","scale":{"domain":[237,631],"nice":false,"zero":false},"axis":{"orient":"top","values":[250,300,350,400,450,500,550,600],"labels":false,"title":null}},
   "y":{"field":"v","type":"quantitative","scale":{"domain":[9,316],"nice":false,"zero":false},"axis":{"orient":"right","values":[50,100,150,200,250,300],"labels":false,"title":null}},
   "text":{"field":"t"}}}
]},
{"width":411,"height":132,"resolve":{"axis":{"x":"independent","y":"independent"}},"layer":[
 {"data":{"name":"br"},"mark":{"type":"line","color":"black","strokeWidth":1.1,"clip":true},
  "encoding":{"x":{"field":"e","type":"quantitative","scale":{"domain":[861,1667],"nice":false,"zero":false},"axis":{"orient":"bottom","values":[900,1000,1100,1200,1300,1400,1500,1600],"format":"d","labelExpr":"datum.value % 200 == 100 ? datum.label : ''","labelPadding":10,"title":"Energy (keV)","titleX":-3,"titleY":49,"titleAlign":"left","titleBaseline":"alphabetic","titleAngle":0}},
   "y":{"field":"c","type":"quantitative","scale":{"domain":[0.1,30.3],"nice":false,"zero":false},"axis":{"orient":"right","values":[5,10,15,20,25,30],"labelExpr":"datum.value % 10 == 5 ? datum.label : ''","labelPadding":12,"title":null}}}},
 {"data":{"name":"br_lab"},"mark":{"type":"text","angle":270,"align":"left","baseline":"middle","fontSize":15.5,"color":"#2b2bd9"},
  "encoding":{"x":{"field":"e","type":"quantitative","scale":{"domain":[861,1667],"nice":false,"zero":false},"axis":{"orient":"top","values":[900,1000,1100,1200,1300,1400,1500,1600],"labels":false,"title":null}},
   "y":{"field":"v","type":"quantitative","scale":{"domain":[0.1,30.3],"nice":false,"zero":false},"axis":{"orient":"left","values":[5,10,15,20,25,30],"labels":false,"title":null}},
   "text":{"field":"t"}}},
 {"data":{"name":"br_note"},"mark":{"type":"rect","color":"#c9f5fa"},
  "encoding":{"x":{"field":"x1","type":"quantitative","axis":null},"x2":{"field":"x2"},"y":{"field":"y1","type":"quantitative","axis":null},"y2":{"field":"y2"}}},
 {"data":{"name":"br_note"},"mark":{"type":"text","fontSize":25,"fontStyle":"italic","color":"black"},
  "encoding":{"x":{"field":"tx","type":"quantitative","axis":null},"y":{"field":"ty","type":"quantitative","axis":null},"text":{"field":"t"}}},
 {"data":{"name":"br_note"},"mark":{"type":"text","fontSize":15,"color":"#e8262b"},
  "encoding":{"x":{"field":"rx","type":"quantitative","axis":null},"y":{"field":"ry","type":"quantitative","axis":null},"text":{"field":"r"}}},
 {"data":{"name":"br_note"},"mark":{"type":"bar","width":9,"color":"#ee1111","stroke":"#6a0000","strokeWidth":0.8},
  "encoding":{"x":{"field":"ax","type":"quantitative","axis":null},"y":{"field":"atop","type":"quantitative","axis":null},"y2":{"field":"abot"}}},
 {"data":{"name":"br_note"},"mark":{"type":"point","shape":"M-1,-0.6L1,-0.6L0,0.65Z","size":256,"filled":true,"opacity":1,"color":"#ee1111","stroke":"#6a0000","strokeWidth":0.8},
  "encoding":{"x":{"field":"ax","type":"quantitative","axis":null},"y":{"field":"ahead","type":"quantitative","axis":null}}}
]}
],
"config":{
 "font":"Liberation Sans",
 "view":{"stroke":"black","strokeWidth":1.6},
 "axis":{"labelFont":"Liberation Sans","labelFontSize":16,"labelColor":"#333","domain":false,"grid":false,"ticks":true,"tickColor":"black","tickWidth":1.2,"tickSize":-5,"labelFlush":false,"labelOverlap":false,"titleFont":"Liberation Sans","titleFontWeight":"normal","titleColor":"#333","titleFontSize":23},
 "text":{"font":"Liberation Sans"}
}
}
